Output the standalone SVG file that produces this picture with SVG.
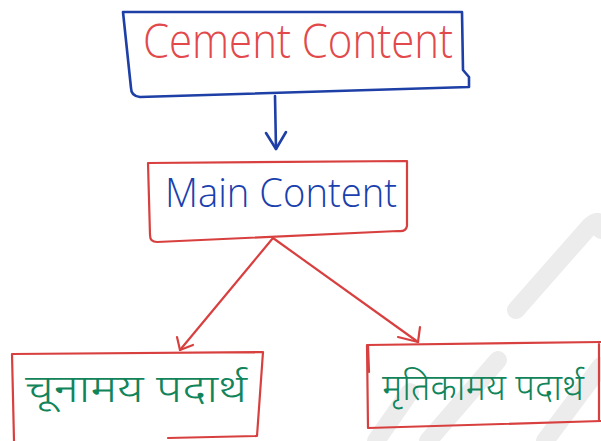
<svg xmlns="http://www.w3.org/2000/svg" width="601" height="441" viewBox="0 0 601 441">
  <defs>
    <style>
      .pen-blue { fill: none; stroke: #1d3fa6; stroke-width: 2.6; stroke-linecap: round; stroke-linejoin: round; }
      .pen-red { fill: none; stroke: #d8403f; stroke-width: 2.2; stroke-linecap: round; stroke-linejoin: round; }
      .wm { fill: none; stroke: #ececec; stroke-width: 18; stroke-linecap: round; stroke-linejoin: round; }
      .latin { font-family: "Open Sans", "Lato", "Liberation Sans", sans-serif; font-weight: 300; }
      .deva { font-family: "Noto Sans Devanagari", "Noto Sans", "Lohit Devanagari", "FreeSans", sans-serif; font-weight: 300; fill: #11845a; }
    </style>
  </defs>

  <rect width="601" height="441" fill="#ffffff"/>

  <!-- faint watermark strokes -->
  <g id="watermark">
    <path class="wm" d="M 376 441 L 410 392"/>
    <path class="wm" d="M 428 441 L 498 360"/>
    <path class="wm" d="M 516 310 L 590 226 Q 601 216 601 230"/>
    <path class="wm" d="M 545 441 L 601 366"/>
  </g>

  <!-- connectors -->
  <g id="connectors">
    <path class="pen-blue" d="M 275 96 L 276 149"/>
    <path class="pen-blue" d="M 266 133 L 276 149 L 286 132"/>
    <path class="pen-red" d="M 273 238 L 180 350"/>
    <path class="pen-red" d="M 177 337 L 180 350 L 193 345"/>
    <path class="pen-red" d="M 273 238 L 418 342"/>
    <path class="pen-red" d="M 398 337 L 418 342 L 420 327"/>
  </g>

  <!-- top node -->
  <g id="cement-content">
    <path class="pen-blue" d="M 123 12 L 462 12 L 463 70 L 469 77 L 469 87 L 140 97 Q 131 96 131 88 L 123 12 Z"/>
    <text class="latin" x="143" y="58" font-size="48" fill="#e2494a" textLength="310" lengthAdjust="spacingAndGlyphs">Cement Content</text>
  </g>

  <!-- middle node -->
  <g id="main-content">
    <path class="pen-red" d="M 148 163 L 407 161 L 407 226 Q 406 232 398 231 L 157 242 Q 150 242 150 235 Z"/>
    <text class="latin" x="165" y="207" font-size="40" fill="#1a3fae" textLength="232" lengthAdjust="spacingAndGlyphs">Main Content</text>
  </g>

  <!-- lower left node -->
  <g id="calcareous">
    <path class="pen-red" d="M 14 441 L 12 354 L 263 352 L 257 436 L 168 438"/>
    <text class="deva" x="25" y="402" font-size="39" textLength="222" lengthAdjust="spacingAndGlyphs">चूनामय पदार्थ</text>
  </g>

  <!-- lower right node -->
  <g id="argillaceous">
    <path class="pen-red" d="M 601 342 L 367 345 L 368 428 L 601 421"/>
    <path class="pen-red" d="M 368 345 L 369 372" stroke-width="3.5"/>
    <path class="pen-red" d="M 599 344 L 599 420"/>
    <text class="deva" x="382" y="400" font-size="37" textLength="202" lengthAdjust="spacingAndGlyphs">मृतिकामय पदार्थ</text>
  </g>
</svg>
